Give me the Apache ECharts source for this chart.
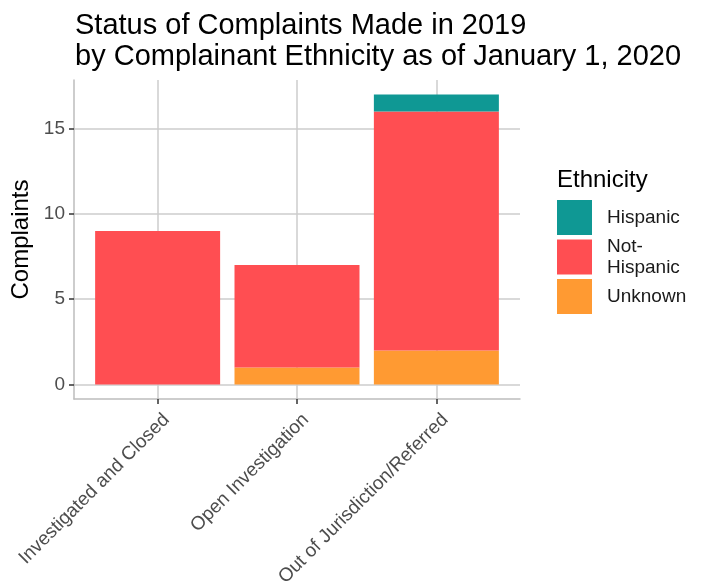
<!DOCTYPE html>
<html>
<head>
<meta charset="utf-8">
<script src="https://cdn.jsdelivr.net/npm/echarts@6/dist/echarts.min.js"></script>
<style>
html, body { margin: 0; padding: 0; background: #fff; }
#main { width: 704px; height: 583px; }
</style>
</head>
<body>
<div id="main"></div>
<script>
// values
var categories = ['Investigated and Closed', 'Open Investigation', 'Out of Jurisdiction/Referred'];
var hispanic = [0, 0, 1];
var notHispanic = [9, 6, 14];
var unknown = [0, 1, 2];
var yTicks = [0, 5, 10, 15];
var xTicks = [1, 2, 3];

// rows are [count, position] so the count is the dimension that gets stacked
function toRows(arr) {
    return arr.map(function (v, i) { return [v, i + 1]; });
}

var font = 'Liberation Sans, Arial, sans-serif';
var myecharts = echarts.init(document.getElementById('main'));
var option = {
    animation: false,
    textStyle: { fontFamily: font },
    title: [
        {
            text: 'Status of Complaints Made in 2019\nby Complainant Ethnicity as of January 1, 2020',
            left: 70,
            top: 5,
            textStyle: { fontSize: 29, lineHeight: 31, fontWeight: 'normal', color: '#000', fontFamily: font }
        },
        {
            text: 'Ethnicity',
            left: 552,
            top: 163,
            textStyle: { fontSize: 24, fontWeight: 'normal', color: '#000', fontFamily: font }
        }
    ],
    legend: {
        orient: 'vertical',
        left: 552,
        top: 195,
        itemWidth: 35,
        itemHeight: 35,
        itemGap: 2,
        icon: 'rect',
        data: ['Hispanic', 'Not-Hispanic', 'Unknown'],
        formatter: function (name) {
            return name === 'Not-Hispanic' ? 'Not-\nHispanic' : name;
        },
        textStyle: { fontSize: 19, color: '#1a1a1a', lineHeight: 21, height: 35, padding: [0, 0, 0, 10], fontFamily: font }
    },
    grid: {
        left: 74,
        right: 184,
        top: 80,
        bottom: 184,
        outerBoundsMode: 'none'
    },
    xAxis: {
        type: 'value',
        min: 0.4,
        max: 3.6,
        axisLine: { show: true, onZero: false, lineStyle: { color: '#bdbdbd', width: 1.5 } },
        axisTick: { show: true, customValues: xTicks, length: 5, lineStyle: { color: '#333', width: 1.5 } },
        axisLabel: {
            customValues: xTicks,
            rotate: 45,
            fontSize: 19,
            color: '#4d4d4d',
            margin: 9,
            verticalAlign: 'top',
            padding: [3, 0, 0, 0],
            formatter: function (v) { return categories[Math.round(v) - 1] || ''; }
        },
        splitLine: { show: true, lineStyle: { color: '#cccccc', width: 1.5 } }
    },
    yAxis: {
        type: 'value',
        min: -0.85,
        max: 17.85,
        name: 'Complaints',
        nameLocation: 'middle',
        nameRotate: 90,
        nameGap: 37,
        nameTextStyle: { fontSize: 24, color: '#000', fontFamily: font },
        axisLine: { show: true, onZero: false, lineStyle: { color: '#bdbdbd', width: 1.5 } },
        axisTick: { show: true, customValues: yTicks, length: 5, lineStyle: { color: '#333', width: 1.5 } },
        axisLabel: { customValues: yTicks, fontSize: 19, color: '#4d4d4d', margin: 9 },
        splitLine: { show: true, lineStyle: { color: '#cccccc', width: 1.5 } }
    },
    series: [
        {
            name: 'Unknown',
            type: 'bar',
            stack: 'total',
            barWidth: 125,
            encode: { x: 1, y: 0 },
            itemStyle: { color: '#FF9A32' },
            data: toRows(unknown)
        },
        {
            name: 'Not-Hispanic',
            type: 'bar',
            stack: 'total',
            barWidth: 125,
            encode: { x: 1, y: 0 },
            itemStyle: { color: '#FF4E52' },
            data: toRows(notHispanic)
        },
        {
            name: 'Hispanic',
            type: 'bar',
            stack: 'total',
            barWidth: 125,
            encode: { x: 1, y: 0 },
            itemStyle: { color: '#0F9894' },
            data: toRows(hispanic)
        }
    ]
};
myecharts.setOption(option);
</script>
</body>
</html>
